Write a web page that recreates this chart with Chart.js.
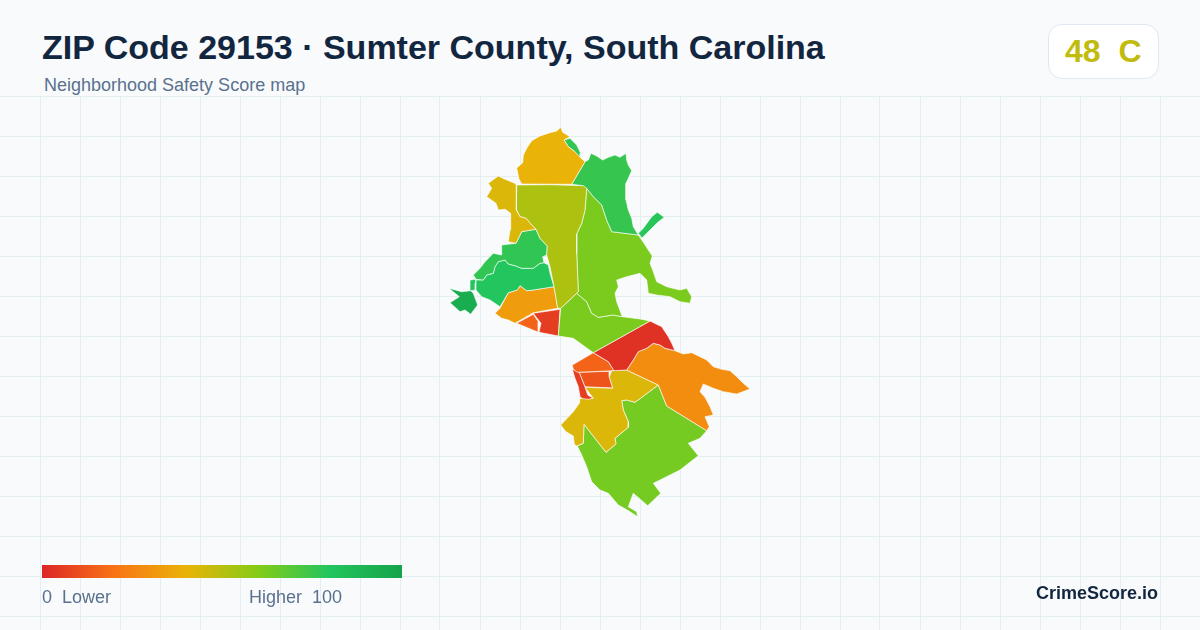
<!DOCTYPE html>
<html>
<head>
<meta charset="utf-8">
<title>ZIP Code 29153</title>
<script src="https://cdn.jsdelivr.net/npm/chart.js@4"></script>
<style>
  html, body { margin: 0; padding: 0; width: 1200px; height: 630px; overflow: hidden; background: #f8fafc; font-family: "Liberation Sans", Arial, sans-serif; }
  #map { position: absolute; left: 0; top: 96px; width: 1200px; height: 534px; }
  .txt { position: absolute; white-space: pre; line-height: 1; }
  #title { left: 42px; top: 30px; font-size: 34px; font-weight: bold; color: #12263f; }
  #sub { left: 44px; top: 76px; font-size: 18px; color: #5a718e; }
  #badge { position: absolute; left: 1048px; top: 24px; width: 109px; height: 53px; background: #fff; border: 1px solid #e2e8f0; border-radius: 14px; }
  #grade { left: 1065px; top: 35px; font-size: 32px; font-weight: bold; color: #c1bb0e; }
  #bar { position: absolute; left: 42px; top: 565px; width: 360px; height: 13px; }
  #low { left: 42px; top: 588px; font-size: 18px; color: #5a718e; }
  #high { left: 249px; top: 588px; font-size: 18px; color: #5a718e; }
  #brand { right: 42px; top: 584px; font-size: 18px; font-weight: bold; color: #12263f; }
</style>
</head>
<body>
<canvas id="map" width="1200" height="534"></canvas>
<div class="txt" id="title">ZIP Code 29153 · Sumter County, South Carolina</div>
<div class="txt" id="sub">Neighborhood Safety Score map</div>
<div id="badge"></div>
<div class="txt" id="grade">48  C</div>
<canvas id="bar" width="360" height="13"></canvas>
<div class="txt" id="low">0  Lower</div>
<div class="txt" id="high">Higher  100</div>
<div class="txt" id="brand">CrimeScore.io</div>
<script>
// outlines, [x, y] in map units
const northCap = [[521.7,184],[519,179],[516.7,168],[522.7,162.7],[523.3,155],[527.3,147.3],[531.7,140.7],[540,136],[550,132.7],[556.7,131],[560.7,127.3],[562.7,132.3],[570,136.7],[564,140],[568.3,146.7],[575,151.7],[580,157.3],[585,161.7],[571.7,184.3]];
const northSliver = [[564,140],[570,138.3],[576.7,145],[580.7,153.3],[580,160],[575,151.7],[568.3,146.7]];
const northEast = [[571.7,184.3],[585,161.7],[588.3,160],[591,153.3],[596.7,156],[602.7,160],[608.3,157.3],[615,155],[620,157.3],[626,153.3],[626.7,160],[628.3,165],[631.7,170.7],[628.3,178.3],[626,183.3],[626,200],[628.3,210],[631.7,218.3],[633.3,226.7],[638.3,235],[611.7,231.7],[606.7,220],[601.7,205],[593.3,196.7],[586.7,188.3],[583.3,185.7]];
const eastSpur = [[638.3,233.3],[643.3,228.3],[651.7,216.7],[657.3,212.3],[664.3,217.3],[657.5,222.5],[651,229],[642,238]];
const westUpper = [[498.3,176],[505,179.3],[515,183.3],[516.7,185.7],[516,200],[516.7,210],[520,216.7],[526,218.3],[531.7,225],[536,229.3],[527.3,230.7],[521.7,231.7],[516,243.3],[508.3,241.7],[510,230],[510.7,221.7],[510.7,213.3],[505,209.3],[498.3,210],[496,203.3],[486.7,196.7],[491.7,188.3],[488.3,183.3]];
const centerOlive = [[516.7,185],[549.3,184.7],[585,185.7],[586.7,188.3],[585,210],[581.7,223.3],[576.7,234],[576.7,253.3],[578.3,291.7],[560.7,308.3],[557.7,308.3],[554,286.7],[550,266.7],[546.7,255],[547.3,246],[540,238.3],[536,229.3],[531.7,225],[526,218.3],[520,216.7],[516.7,210],[516,200]];
const centerGreen = [[586.7,188.3],[593.3,196.7],[601.7,205],[606.7,220],[611.7,231.7],[638.3,235],[644,243.3],[648.3,250],[652.3,256],[650,263.3],[653.3,271.7],[656.7,281.7],[666.7,286.7],[680,290],[686.7,288.3],[691.7,296.7],[690,303.3],[680,301.7],[670,296.7],[656.7,295],[648.3,293.3],[646.7,280],[640,273.3],[626.7,276.7],[616.7,280],[618.3,286.7],[615,293.3],[616.7,301.7],[622.3,316.7],[613.3,315],[598.3,317.3],[591.7,313.3],[586.7,301.7],[576.7,293.3],[578.3,291.7],[576.7,253.3],[576.7,234],[581.7,223.3],[585,210]];
const midGreen = [[560.7,308.3],[576.7,293.3],[586.7,301.7],[591.7,313.3],[598.3,317.3],[613.3,315],[622.3,316.7],[640,319],[650,321],[593.3,352.7],[573.3,338.3],[558.3,336]];
const westTop = [[521.7,231.7],[527.3,230.7],[536,229.3],[540,238.3],[547.3,246],[546.7,255],[542.7,256.7],[544,262.7],[540,263.3],[533.3,268.3],[521.7,268.3],[515,265.7],[508.3,264],[505,260],[498.3,261.7],[495,266.7],[493.3,273.3],[486.7,275],[483.3,280],[476,279.3],[473.3,275],[480,268.3],[485,261.7],[493.3,253.3],[501.7,255],[501.7,245],[516,243.3]];
const westMid = [[476,280],[483.3,280],[486.7,275],[493.3,273.3],[495,266.7],[498.3,261.7],[505,260],[508.3,264],[515,265.7],[521.7,268.3],[533.3,268.3],[540,263.3],[544,262.7],[548.3,265],[550,273.3],[554,286.7],[533.3,290],[526.7,290.7],[520,285.7],[517.3,290],[508.3,292.7],[500,306.7],[490,300],[481.7,296.7],[476,290]];
const westSliver = [[470,280],[476,279.3],[475.3,283.3],[475.3,290],[470.7,290.7]];
const farWest = [[449,288.3],[461.7,291.7],[470.7,290.7],[473.3,293.3],[477.7,305],[473.3,310.7],[470.7,314.3],[465,310],[460,311.7],[450,302.7],[459.3,296.7]];
const westOrange = [[508.3,292.7],[517.3,290],[520,285.7],[526.7,290.7],[533.3,290],[554,286.7],[557.7,308.3],[533.3,312.7],[515,323.3],[508.3,320],[501.7,318.3],[495,313.3],[500,308.3]];
const westWedge = [[516.7,323.3],[533.3,314.3],[538.3,321.7],[538.3,332.3]];
const westRed = [[533.3,313.3],[560,309.3],[558.3,336],[539,332.3],[541,323.3]];
const midRed = [[593.3,352.7],[650,321],[661.7,326.7],[665,331.7],[668.3,336.7],[671.7,343.3],[675,350.7],[665,348.3],[660,345],[653.3,343.3],[646.7,348.3],[638.3,351.7],[633.3,360],[626.7,370],[614,370.7],[608.3,361.7]];
const eastOrange = [[626.7,370],[633.3,360],[638.3,351.7],[646.7,348.3],[653.3,343.3],[660,345],[665,348.3],[675,350.7],[683.3,354],[691.7,352.7],[700,356.7],[706.7,360],[713.3,366.7],[721.7,369.3],[730,370.7],[736.7,376.7],[743.3,383.3],[750,389],[736.7,394],[723.3,391.7],[713.3,388.3],[703.3,384],[700,391.7],[705,397.3],[710,406.7],[713.3,415],[705,416.7],[709.3,426.7],[706.7,430.7],[666.7,406],[658.3,385]];
const southYellow = [[611.7,370.7],[626.7,370],[658.3,385],[635,402.3],[626.7,400],[621.7,400.7],[623.3,410],[628.3,421.7],[628.3,427.3],[615,438.3],[616,444],[606,452.3],[595,438.3],[584,424.3],[583.3,443.3],[576.7,446],[574.3,444.3],[573.3,436],[566,431.7],[560.7,425],[573.3,411.7],[579.3,403.3],[580,398.3],[588.3,399.3],[593.3,398.3],[585,387.3],[612.7,388.3],[609.3,376.7]];
const southGreen = [[658.3,385],[666.7,406],[706.7,430.7],[700,438.3],[688.3,443.3],[698.3,455.7],[680,470],[660,480],[653.3,483.3],[660.7,493.3],[647.7,505.7],[633.3,493.3],[628.3,506.7],[636.7,511.7],[637.7,516.7],[627.3,510],[618.3,505],[608.3,493.3],[600,490],[591.7,481.7],[586.7,466.7],[581.7,455],[577.3,446],[583.3,443.3],[584,424.3],[595,438.3],[606,452.3],[616,444],[615,438.3],[628.3,427.3],[628.3,421.7],[623.3,410],[621.7,400.7],[626.7,400],[635,402.3]];
const cityNorth = [[572.3,365],[593.3,352.7],[608.3,361.7],[614,370.7],[577.3,372.3],[573.3,369.3]];
const cityCenter = [[579.3,372.3],[609.3,371.3],[609.3,376.7],[612.7,388],[585,386.7]];
const citySliver = [[572.3,369.3],[579.3,372.3],[585,386.7],[587.7,395],[593.3,398.3],[585,400.7],[580,396.7],[578.3,386.7],[575,378.3]];

const zoneOutlines = [northCap, northSliver, northEast, eastSpur, westUpper, centerOlive, centerGreen, midGreen, westTop, westMid, westSliver, farWest, westOrange, westWedge, westRed, midRed, eastOrange, southYellow, southGreen, cityNorth, cityCenter, citySliver];
const zoneScores = [40, 77, 76, 79, 43, 52, 62, 62, 77, 80, 80, 94, 33, 16, 6, 3, 28, 43, 63, 16, 12, 6];

const scaleStops = [0, 20, 40, 60, 80, 100];
const scaleColors = ["#dc2626", "#f97316", "#eab308", "#84cc16", "#22c55e", "#16a34a"];
const gridX = [40, 80, 120, 160, 200, 240, 280, 320, 360, 400, 440, 480, 520, 560, 600, 640, 680, 720, 760, 800, 840, 880, 920, 960, 1000, 1040, 1080, 1120, 1160];
const gridY = [96, 136, 176, 216, 256, 296, 336, 376, 416, 456, 496, 536, 576, 616];

function rgb(hex) {
  return [1, 3, 5].map((i) => parseInt(hex.slice(i, i + 2), 16));
}

function scoreColor(score) {
  let i = Math.min(Math.floor(score / 20), scaleStops.length - 2);
  const t = (score - scaleStops[i]) / (scaleStops[i + 1] - scaleStops[i]);
  const a = rgb(scaleColors[i]);
  const b = rgb(scaleColors[i + 1]);
  return `rgb(${a.map((v, k) => Math.round(v + (b[k] - v) * t)).join(",")})`;
}

const datasets = zoneOutlines.map((outline, i) => ({
  data: outline.concat([outline[0]]).map(([x, y]) => ({ x, y })),
  showLine: true,
  fill: "shape",
  tension: 0,
  pointRadius: 0,
  borderWidth: 0.7,
  borderColor: "rgba(255,255,255,0.9)",
  backgroundColor: scoreColor(zoneScores[i]),
}));

function gridScale(values, extra) {
  return {
    type: "linear",
    grid: { color: "#e4edf2", lineWidth: 1, drawTicks: false, tickLength: 0 },
    border: { display: false },
    ticks: { display: false },
    afterBuildTicks: (scale) => {
      scale.ticks = values.map((value) => ({ value }));
    },
    ...extra,
  };
}

new Chart(document.getElementById("map"), {
  type: "scatter",
  data: { datasets },
  options: {
    responsive: false,
    animation: false,
    events: [],
    layout: { padding: 0 },
    plugins: { legend: { display: false }, tooltip: { enabled: false } },
    scales: {
      x: gridScale(gridX, { min: 0, max: 1200 }),
      y: gridScale(gridY, { min: 96, max: 630, reverse: true }),
    },
  },
});

// legend strip
const bar = document.getElementById("bar").getContext("2d");
const ramp = bar.createLinearGradient(0, 0, 360, 0);
scaleStops.forEach((s, i) => ramp.addColorStop(s / 100, scaleColors[i]));
bar.fillStyle = ramp;
bar.fillRect(0, 0, 360, 13);
</script>
</body>
</html>
